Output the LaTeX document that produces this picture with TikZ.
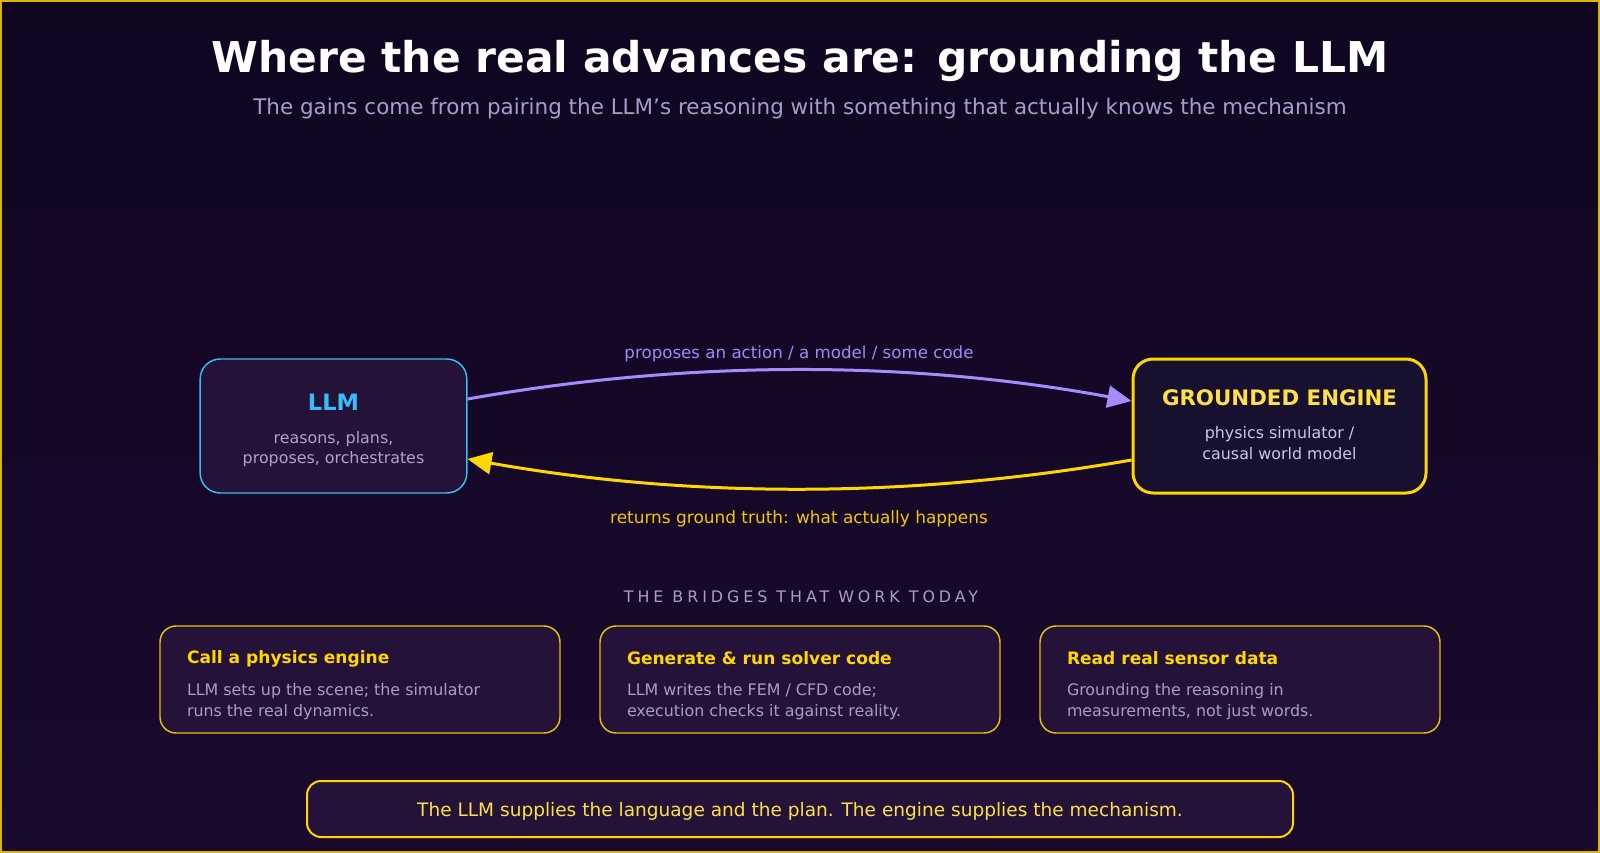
\documentclass[tikz,border=0pt]{standalone}
\usepackage{fontspec}
\setmainfont{DejaVu Sans}
\newfontfamily\hdrfont[LetterSpace=25]{DejaVu Sans}
\usetikzlibrary{arrows.meta,calc}
\definecolor{bgtop}{HTML}{100620}
\definecolor{bgbot}{HTML}{1A0A2E}
\definecolor{gold}{HTML}{FFD700}
\definecolor{goldtxt}{HTML}{FDE047}
\definecolor{sky}{HTML}{38BDF8}
\definecolor{boxfill}{HTML}{241238}
\definecolor{engfill}{HTML}{17112F}
\definecolor{lav}{HTML}{A99CCB}
\definecolor{llmsub}{HTML}{B4A0C8}
\definecolor{engsub}{HTML}{C4C8F0}
\definecolor{violet}{HTML}{A78BFA}
\definecolor{violettxt}{HTML}{9E8BF6}
\definecolor{goldlbl}{HTML}{F2C800}
\begin{document}
\begin{tikzpicture}[x=0.75pt,y=-0.75pt,
  txt/.style={inner sep=0pt,outer sep=0pt},
  llmbox/.style={draw=sky,fill=boxfill,line width=1.1pt,rounded corners=15pt,minimum width=200pt,minimum height=100.5pt,inner sep=0pt},
  engbox/.style={draw=gold,fill=engfill,line width=2.25pt,rounded corners=15pt,minimum width=219.75pt,minimum height=100.5pt,inner sep=0pt},
  bridgebox/.style={draw=gold!90!black,fill=boxfill,line width=1.1pt,rounded corners=12pt,minimum width=300pt,minimum height=80.25pt,inner sep=0pt},
  footbox/.style={draw=gold,fill=boxfill,line width=1.5pt,rounded corners=10.5pt,minimum width=739.5pt,minimum height=42pt,inner sep=0pt},
  btitle/.style={txt,anchor=west,text=gold,font=\bfseries\fontsize{12.8}{15}\selectfont},
  bbody/.style={txt,anchor=west,align=left,text=lav,font=\fontsize{11.9}{15.75}\selectfont},
  violetarrow/.style={draw=violet,line width=2.25pt,-{Triangle[length=18pt,width=16.5pt]}},
  goldarrow/.style={draw=gold,line width=2.25pt,-{Triangle[length=18pt,width=16.5pt]}}
]
\fill[top color=bgtop,bottom color=bgbot] (0,0) rectangle (1600,853);
\useasboundingbox (0,0) rectangle (1600,853);
\draw[gold!85!black,line width=0.9pt] (1,1) rectangle (1599,852);

\node[txt,text=white,font=\bfseries\fontsize{31.8}{38}\selectfont] (title) at (800,61) {Where the real advances are: grounding the LLM};
\node[txt,text=lav,font=\fontsize{16.1}{19}\selectfont] (subtitle) at (800,109) {The gains come from pairing the LLM’s reasoning with something that actually knows the mechanism};

\node[llmbox] (llm) at (333.5,426) {};
\node[txt,text=sky,font=\bfseries\fontsize{16.9}{20}\selectfont] (llmt) at (333.5,402) {LLM};
\node[txt,text=llmsub,align=center,font=\fontsize{11.9}{15}\selectfont] (llms) at (333.5,449) {reasons, plans,\\proposes, orchestrates};

\node[engbox] (eng) at (1279.5,426) {};
\node[txt,text=goldtxt,font=\bfseries\fontsize{16}{19}\selectfont] (engt) at (1279.5,398) {GROUNDED ENGINE};
\node[txt,text=engsub,align=center,font=\fontsize{11.9}{15.75}\selectfont] (engs) at (1279.5,443.5) {physics simulator /\\causal world model};

\draw[violetarrow] ($(llm.east)+(0,-27)$) .. controls (689,359.7) and (911,360.3) .. ($(eng.west)+(0,-25)$);
\draw[goldarrow] ($(eng.west)+(0,34)$) .. controls (911,498.7) and (689,498.3) .. ($(llm.east)+(0,33)$);
\node[txt,text=violettxt,font=\fontsize{12.5}{15}\selectfont] (uplbl) at (799,354) {proposes an action / a model / some code};
\node[txt,text=goldlbl,font=\fontsize{12.7}{15}\selectfont] (lowlbl) at (799,519) {returns ground truth: what actually happens};

\node[txt,text=lav,font=\hdrfont\fontsize{11.9}{15}\selectfont] (hdr) at (801,597) {THE BRIDGES THAT WORK TODAY};

\node[bridgebox] (b1) at (360,679.5) {};
\node[btitle] (b1t) at (187,658.5) {Call a physics engine};
\node[bbody] (b1b) at (187,701.5) {LLM sets up the scene; the simulator\\runs the real dynamics.};

\node[bridgebox] (b2) at (800,679.5) {};
\node[btitle] (b2t) at (627,658.5) {Generate \& run solver code};
\node[bbody] (b2b) at (627,701.5) {LLM writes the FEM / CFD code;\\execution checks it against reality.};

\node[bridgebox] (b3) at (1240,679.5) {};
\node[btitle] (b3t) at (1067,658.5) {Read real sensor data};
\node[bbody] (b3b) at (1067,701.5) {Grounding the reasoning in\\measurements, not just words.};

\node[footbox] (foot) at (800,809) {};
\node[txt,text=goldtxt,font=\fontsize{13.9}{17}\selectfont] (foott) at (800,811) {The LLM supplies the language and the plan. The engine supplies the mechanism.};
\end{tikzpicture}
\end{document}
